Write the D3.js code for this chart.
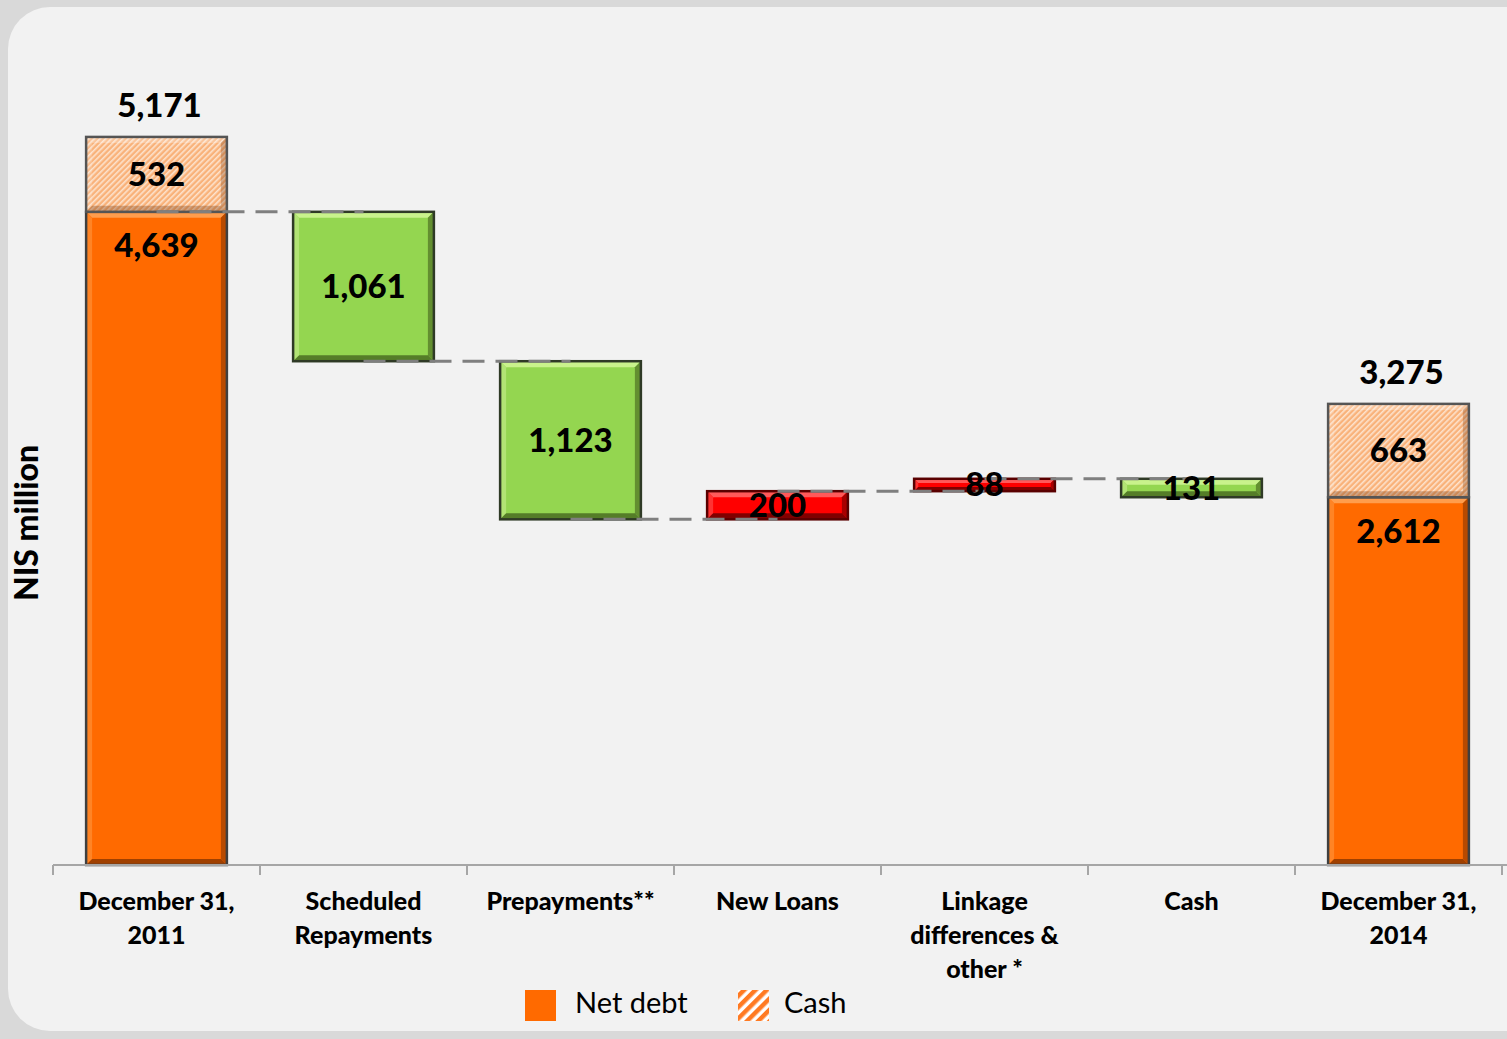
<!DOCTYPE html>
<html lang="en">
<head>
    <meta charset="UTF-8">
    <script src="https://d3js.org/d3.v7.min.js"></script>
    <style>
        body { margin: 0; background: #d9d9d9; }
        text { font-family: Lato, "Open Sans", sans-serif; }
        .val { font-size: 33px; font-weight: 900; fill: #000; text-anchor: middle; }
        .cat { font-size: 25px; font-weight: 900; fill: #000; text-anchor: middle; }
    </style>
</head>
<body>
    <svg id="chart"></svg>
    <script>
        // data
        const categories = ["December 31,\n2011", "Scheduled\nRepayments", "Prepayments**", "New Loans",
                            "Linkage\ndifferences &\nother *", "Cash", "December 31,\n2014"];
        const netDebt = [4639, null, null, null, null, null, 2612];
        const cashTotals = [532, null, null, null, null, null, 663];
        const changes = [null, -1061, -1123, 200, 88, -131, null];
        const legendItems = ["Net debt", "Cash"];

        const width = 1507, height = 1039;
        const margin = { top: 20, right: 5, bottom: 174, left: 53 };

        const svg = d3.select("#chart")
            .attr("width", width)
            .attr("height", height);

        const defs = svg.append("defs");
        const hatch = defs.append("pattern")
            .attr("id", "hatch").attr("patternUnits", "userSpaceOnUse")
            .attr("width", 4).attr("height", 4)
            .attr("patternTransform", "rotate(45)");
        hatch.append("rect").attr("width", 4).attr("height", 4).attr("fill", "#f9b27a");
        hatch.append("rect").attr("width", 1.6).attr("height", 4).attr("fill", "#fde3cd");

        const hatchBig = defs.append("pattern")
            .attr("id", "hatchBig").attr("patternUnits", "userSpaceOnUse")
            .attr("width", 8).attr("height", 8)
            .attr("patternTransform", "rotate(45)");
        hatchBig.append("rect").attr("width", 8).attr("height", 8).attr("fill", "#fff");
        hatchBig.append("rect").attr("width", 4.5).attr("height", 8).attr("fill", "#ff7a22");

        // background panel
        svg.append("rect").attr("width", width).attr("height", height).attr("fill", "#d9d9d9");
        svg.append("rect").attr("x", 8).attr("y", 7).attr("width", 1560).attr("height", 1024)
            .attr("rx", 42).attr("fill", "#f2f2f2");

        const x = d3.scaleBand()
            .domain(categories)
            .range([margin.left, margin.left + 7 * 207])
            .paddingInner(0.32).paddingOuter(0.16);

        const y = d3.scaleLinear()
            .domain([0, 6000])
            .range([height - margin.bottom, height - margin.bottom - 6000 * 0.1408]);

        // build waterfall segments
        const bars = [];
        let running = 0;
        categories.forEach((c, i) => {
            if (netDebt[i] != null) {
                running = netDebt[i];
                bars.push({ cat: c, lo: 0, hi: netDebt[i], kind: "debt", label: netDebt[i] });
                bars.push({ cat: c, lo: netDebt[i], hi: netDebt[i] + cashTotals[i], kind: "cash", label: cashTotals[i] });
            } else {
                const next = running + changes[i];
                bars.push({ cat: c, lo: Math.min(running, next), hi: Math.max(running, next),
                            kind: changes[i] < 0 ? "down" : "up", label: Math.abs(changes[i]), from: running, to: next });
                running = next;
            }
        });

        const style = {
            debt: { base: "#ff6a00", top: "#ff9d4d", left: "#ff8425", right: "#b84a00", bottom: "#a04000", stroke: "#3f3f3f" },
            cash: { base: "url(#hatch)", top: "rgba(255,255,255,0.25)", left: "rgba(255,255,255,0.15)", right: "rgba(120,60,20,0.3)", bottom: "rgba(120,60,20,0.35)", stroke: "#555" },
            down: { base: "#94d650", top: "#c9f28c", left: "#b2e474", right: "#638f30", bottom: "#557d28", stroke: "#2f3a26" },
            up: { base: "#ff0000", top: "#ff5a5a", left: "#ff3232", right: "#a80000", bottom: "#800000", stroke: "#5a0000" }
        };

        const fmt = d3.format(",");
        const barG = svg.append("g");

        bars.forEach(d => {
            const s = style[d.kind];
            const x0 = x(d.cat), x1 = x0 + x.bandwidth();
            const y0 = y(d.hi), y1 = y(d.lo);
            const b = Math.min(6, (y1 - y0) / 3);
            const g = barG.append("g");
            g.append("rect").attr("x", x0).attr("y", y0).attr("width", x1 - x0).attr("height", y1 - y0)
                .attr("fill", s.base);
            const sides = [
                [[x0, y0], [x1, y0], [x1 - b, y0 + b], [x0 + b, y0 + b], s.top],
                [[x0, y0], [x0 + b, y0 + b], [x0 + b, y1 - b], [x0, y1], s.left],
                [[x1, y0], [x1, y1], [x1 - b, y1 - b], [x1 - b, y0 + b], s.right],
                [[x0, y1], [x0 + b, y1 - b], [x1 - b, y1 - b], [x1, y1], s.bottom]
            ];
            sides.forEach(p => {
                g.append("polygon").attr("points", p.slice(0, 4).map(q => q.join(",")).join(" "))
                    .attr("fill", p[4]);
            });
            g.append("rect").attr("x", x0).attr("y", y0).attr("width", x1 - x0).attr("height", y1 - y0)
                .attr("fill", "none").attr("stroke", s.stroke).attr("stroke-width", 2.5);
        });

        // axis
        const axisY = y(0);
        svg.append("line").attr("x1", margin.left).attr("x2", width).attr("y1", axisY).attr("y2", axisY)
            .attr("stroke", "#a6a6a6").attr("stroke-width", 2);
        d3.range(categories.length + 1).forEach(i => {
            const tx = margin.left + i * x.step();
            svg.append("line").attr("x1", tx).attr("x2", tx).attr("y1", axisY).attr("y2", axisY + 10)
                .attr("stroke", "#a6a6a6").attr("stroke-width", 2);
        });

        // connectors
        const levels = [];
        categories.forEach((c, i) => {
            if (i < categories.length - 2) {
                const level = i === 0 ? netDebt[0] : bars.find(b => b.cat === c).to;
                levels.push({ a: c, b: categories[i + 1], v: level });
            }
        });
        svg.append("g").selectAll("line").data(levels).join("line")
            .attr("x1", d => x(d.a) + x.bandwidth() / 2)
            .attr("x2", d => x(d.b) + x.bandwidth() / 2)
            .attr("y1", d => y(d.v)).attr("y2", d => y(d.v))
            .attr("stroke", "#7f7f7f").attr("stroke-width", 3)
            .attr("stroke-dasharray", "22,11");

        // value labels
        const labG = svg.append("g");
        bars.forEach(d => {
            const cx = x(d.cat) + x.bandwidth() / 2;
            let ly;
            if (d.kind === "debt") ly = y(d.hi) + 37;
            else ly = (y(d.hi) + y(d.lo)) / 2 + 3;
            labG.append("text").attr("class", "val").attr("x", cx).attr("y", ly)
                .attr("dominant-baseline", "middle").text(fmt(d.label));
            if (d.kind === "cash") {
                labG.append("text").attr("class", "val").attr("x", cx + 3).attr("y", y(d.hi) - 28)
                    .attr("dominant-baseline", "middle").text(fmt(d.hi));
            }
        });

        // category labels
        categories.forEach(c => {
            const t = svg.append("text").attr("class", "cat")
                .attr("x", x(c) + x.bandwidth() / 2).attr("y", 904);
            c.split("\n").forEach((line, k) => {
                t.append("tspan").attr("x", x(c) + x.bandwidth() / 2)
                    .attr("y", 904 + k * 34).attr("dominant-baseline", "middle").text(line);
            });
        });

        // y title
        svg.append("text")
            .attr("transform", "translate(30,523) rotate(-90)")
            .attr("text-anchor", "middle").attr("dominant-baseline", "middle")
            .style("font-size", "32px").style("font-weight", "900")
            .text("NIS million");

        // legend
        const leg = svg.append("g");
        leg.append("rect").attr("x", 525).attr("y", 990).attr("width", 31).attr("height", 31).attr("fill", "#ff6a00");
        leg.append("text").attr("x", 575).attr("y", 1006).attr("dominant-baseline", "middle")
            .style("font-size", "29px").text(legendItems[0]);
        leg.append("rect").attr("x", 738).attr("y", 990).attr("width", 31).attr("height", 31).attr("fill", "url(#hatchBig)");
        leg.append("text").attr("x", 784).attr("y", 1006).attr("dominant-baseline", "middle")
            .style("font-size", "29px").text(legendItems[1]);
    </script>
</body>
</html>
